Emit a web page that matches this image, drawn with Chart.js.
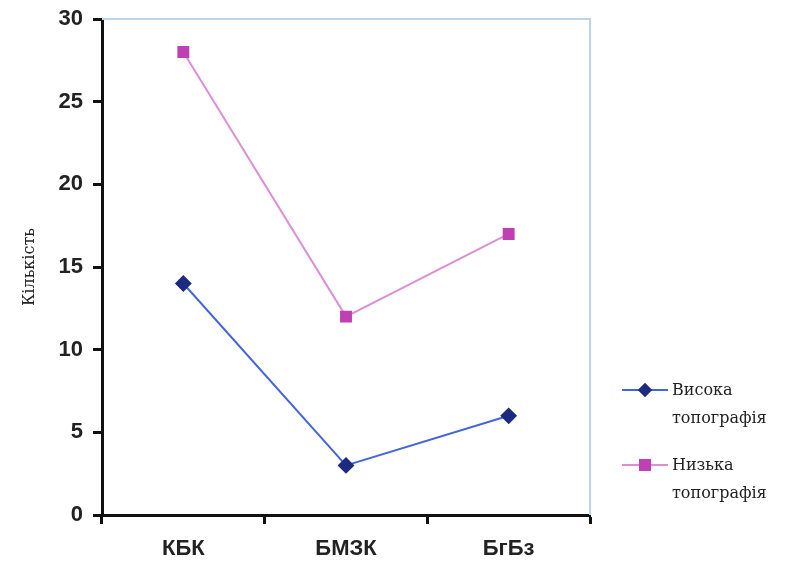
<!DOCTYPE html>
<html>
<head>
<meta charset="utf-8">
<script src="https://cdn.jsdelivr.net/npm/chart.js@4"></script>
<style>
    body { margin: 0; background: #fff; }
    .wrap { position: relative; width: 786px; height: 568px; }
    .legend { position: absolute; left: 622px; top: 376px; font-family: "DejaVu Serif", "Liberation Serif", serif; font-size: 16px; color: #222; }
    .legend .item { display: flex; align-items: flex-start; margin-bottom: 19px; }
    .legend .mark { position: relative; width: 46px; height: 28px; flex: none; }
    .legend .mark .ln { position: absolute; left: 0; right: 0; top: 13px; height: 2px; }
    .legend .mark .pt { position: absolute; left: 17px; top: 8px; width: 12px; height: 12px; }
    .legend .txt { line-height: 28px; margin-left: 4px; }
</style>
</head>
<body>
<div class="wrap">
    <canvas id="myChart" width="786" height="568"></canvas>
    <div class="legend" id="legend"></div>
</div>
<script>
const categories = ['КБК', 'БМЗК', 'БгБз'];
const highTopo = [14, 3, 6];
const lowTopo = [28, 12, 17];
const seriesNames = [['Висока', 'топографія'], ['Низька', 'топографія']];
const yTicks = [0, 5, 10, 15, 20, 25, 30];

const lineColors = ['#4466dd', '#dd8fd6'];
const pointColors = ['#1c2a80', '#c040b4'];

// top and right frame of the plot area
const frame = {
    id: 'frame',
    afterDraw: (chart) => {
        const { ctx, chartArea } = chart;
        ctx.save();
        ctx.strokeStyle = '#b9d6ec';
        ctx.lineWidth = 2;
        ctx.beginPath();
        ctx.moveTo(chartArea.left, chartArea.top);
        ctx.lineTo(chartArea.right, chartArea.top);
        ctx.lineTo(chartArea.right, chartArea.bottom);
        ctx.stroke();
        ctx.restore();
    }
};

const tickFont = { family: '"Liberation Sans", Arial, sans-serif', size: 22, weight: 'bold' };

const ctx = document.getElementById('myChart').getContext('2d');
const chart = new Chart(ctx, {
    type: 'line',
    data: {
        labels: categories,
        datasets: [{
            label: seriesNames[0].join(' '),
            data: highTopo,
            borderColor: lineColors[0],
            borderWidth: 2,
            pointStyle: 'rectRot',
            pointRadius: 7,
            pointBackgroundColor: pointColors[0],
            pointBorderColor: pointColors[0],
            tension: 0
        }, {
            label: seriesNames[1].join(' '),
            data: lowTopo,
            borderColor: lineColors[1],
            borderWidth: 2,
            pointStyle: 'rect',
            pointRadius: 7,
            pointBackgroundColor: pointColors[1],
            pointBorderColor: pointColors[1],
            tension: 0
        }]
    },
    options: {
        responsive: false,
        animation: false,
        layout: { padding: { top: 19, right: 196, left: 20, bottom: 0 } },
        plugins: {
            legend: { display: false },
            tooltip: { enabled: false }
        },
        scales: {
            x: {
                offset: true,
                grid: { offset: true, drawOnChartArea: false, drawTicks: true, tickLength: 9, color: '#111', tickWidth: 3 },
                border: { color: '#111', width: 3 },
                ticks: { color: '#222', font: tickFont, padding: 12 },
                afterFit: (scale) => { scale.height = 53; }
            },
            y: {
                min: 0,
                max: 30,
                afterBuildTicks: (scale) => { scale.ticks = yTicks.map((v) => ({ value: v })); },
                grid: { drawOnChartArea: false, drawTicks: true, tickLength: 9, color: '#111', tickWidth: 3 },
                border: { color: '#111', width: 3 },
                ticks: { color: '#222', font: tickFont, padding: 10 },
                title: {
                    display: true,
                    text: 'Кількість',
                    color: '#222',
                    font: { family: '"DejaVu Serif", "Liberation Serif", serif', size: 16 },
                    padding: { top: 0, bottom: 6 }
                },
                afterFit: (scale) => {
                    scale.width = 82;
                    scale.paddingTop = 0;
                    scale.paddingBottom = 0;
                }
            }
        }
    },
    plugins: [frame]
});

// legend on the right, built from the datasets
const legendEl = document.getElementById('legend');
chart.data.datasets.forEach((ds, i) => {
    const item = document.createElement('div');
    item.className = 'item';
    const rot = ds.pointStyle === 'rectRot' ? 'transform: rotate(45deg) scale(0.85);' : '';
    item.innerHTML = `<div class="mark"><div class="ln" style="background:${lineColors[i]}"></div>` +
        `<div class="pt" style="background:${pointColors[i]};${rot}"></div></div>` +
        `<div class="txt">${seriesNames[i][0]}<br>${seriesNames[i][1]}</div>`;
    legendEl.appendChild(item);
});
</script>
</body>
</html>
